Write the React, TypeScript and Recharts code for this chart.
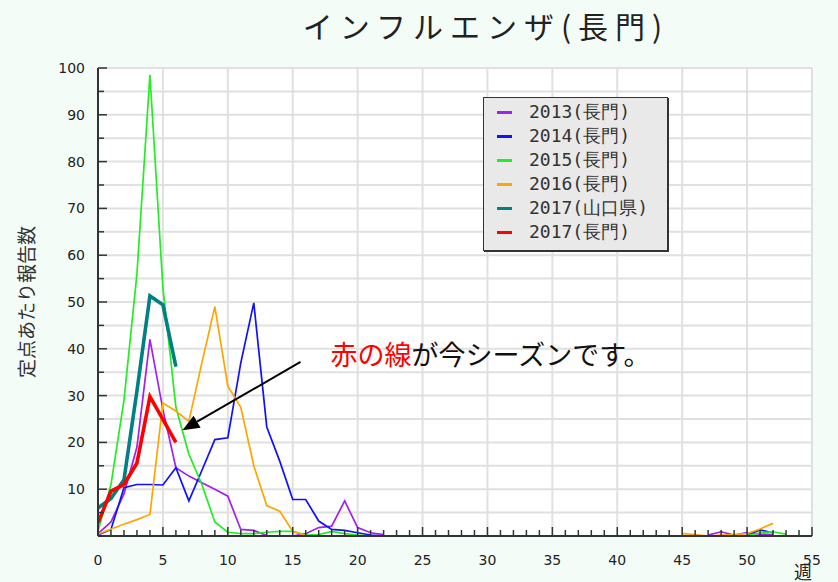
import React from 'react';
import { LineChart, Line, XAxis, YAxis, CartesianGrid, Legend, ReferenceLine } from 'recharts';

const weeks = [0,1,2,3,4,5,6,7,8,9,10,11,12,13,14,15,16,17,18,19,20,21,22,23,24,25,26,27,28,29,30,31,32,33,34,35,36,37,38,39,40,41,42,43,44,45,46,47,48,49,50,51,52,53];

const N = null;
// 2013 (長門)
const s2013 = [0.5,3,9,19,42,27,14.6,12.8,11.4,10,8.5,1.4,1.2,0.1,0,0,0.5,1.8,2.1,7.5,1.8,0.7,0.3,
  N,N,N,N,N,N,N,N,N,N,N,N,N,N,N,N,N,N,N,N,N,N,
  N,N,0.2,0.9,0.2,0.7,0.4,0.3,N];
// 2014 (長門)
const s2014 = [0.2,1.4,10.3,11,11,10.9,14.6,7.5,14,20.6,21,37,49.8,23.3,16,7.8,7.8,3.2,1.4,1.2,0.7,0.2,0,
  N,N,N,N,N,N,N,N,N,N,N,N,N,N,N,N,N,N,N,N,N,N,
  N,N,N,N,N,0.2,1.3,0.7,N];
// 2015 (長門)
const s2015 = [1,11,29,56,98.5,53,27.5,17.5,11,3,0.8,0.5,0.5,0.8,1,1,0.2,0.3,1,0.5,0.2,0,0,
  N,N,N,N,N,N,N,N,N,N,N,N,N,N,N,N,N,N,N,N,N,N,
  N,N,N,N,N,0.1,0.7,0.9,0.4];
// 2016 (長門)
const s2016 = [0.4,1.5,2.5,3.5,4.6,28.4,26.7,24.5,37,49,32,27.5,15,6.5,5.3,1,0.1,0,0,0,0,N,N,
  N,N,N,N,N,N,N,N,N,N,N,N,N,N,N,N,N,N,N,N,N,N,
  0.5,0.3,0,0.2,0.3,0.5,1.5,2.7,N];
// 2017 (山口県)
const s2017y = [6,8,12,31,51.3,49.4,36.2];
// 2017 (長門)
const s2017n = [2.8,9.6,11,15.6,29.8,24.9,20];

const seriesNames = ['2013(長門)', '2014(長門)', '2015(長門)', '2016(長門)', '2017(山口県)', '2017(長門)'];
const seriesKeys = ['s2013', 's2014', 's2015', 's2016', 's2017y', 's2017n'];
const seriesColors = ['#a020f0', '#1010ff', '#22ee22', '#ffa500', '#008080', '#ff0000'];
const seriesWidths = [1.7, 1.7, 1.7, 1.7, 3.6, 3.6];

const xTicks = [0,1,2,3,4,5,6,7,8,9,10,11,12,13,14,15,16,17,18,19,20,21,22,23,24,25,26,27,28,29,30,31,32,33,34,35,36,37,38,39,40,41,42,43,44,45,46,47,48,49,50,51,52,53,54,55];
const yTicks = [0,5,10,15,20,25,30,35,40,45,50,55,60,65,70,75,80,85,90,95,100];
const xGrid = [5,10,15,20,25,30,35,40,45,50,55];
const yGrid = [5,10,15,20,25,30,35,40,45,50,55,60,65,70,75,80,85,90,95,100];

const title = 'インフルエンザ(長門)';
const yLabel = '定点あたり報告数';
const xLabel = '週';
const noteRed = '赤の線';
const noteBlack = 'が今シーズンです。';
const arrowTail = { x: 15.6, y: 37.2 };
const arrowTip = { x: 6.5, y: 22.6 };

const data = weeks.map((w, i) => ({
  week: w,
  s2013: s2013[i] ?? null,
  s2014: s2014[i] ?? null,
  s2015: s2015[i] ?? null,
  s2016: s2016[i] ?? null,
  s2017y: i < s2017y.length ? s2017y[i] : null,
  s2017n: i < s2017n.length ? s2017n[i] : null,
}));

const tickFont = '"DejaVu Sans", sans-serif';

const XTick = (props: any) => {
  const { x, y, payload } = props;
  const v = payload.value;
  const major = v % 5 === 0;
  return (
    <g>
      <line x1={x} y1={y} x2={x} y2={y - (major ? 9 : 6)} stroke="#333" strokeWidth={1.5} />
      {major && (
        <text x={x} y={y + 29} textAnchor="middle" fontSize={14} fontFamily={tickFont} fill="#222">
          {v}
        </text>
      )}
    </g>
  );
};

const YTick = (props: any) => {
  const { x, y, payload } = props;
  const v = payload.value;
  const major = v % 10 === 0;
  return (
    <g>
      <line x1={x} y1={y} x2={x + (major ? 9 : 6)} y2={y} stroke="#333" strokeWidth={1.5} />
      {major && v > 0 && (
        <text x={x - 13} y={y + 5} textAnchor="end" fontSize={14} fontFamily={tickFont} fill="#222">
          {v}
        </text>
      )}
    </g>
  );
};

const YLabelContent = (props: any) => {
  const vb = props.viewBox || {};
  const cx = vb.x + 25;
  const cy = vb.y + vb.height / 2;
  return (
    <text x={cx} y={cy} transform={`rotate(-90 ${cx} ${cy})`} textAnchor="middle" dominantBaseline="central"
      fontSize={19} fontFamily='"Noto Sans CJK JP", sans-serif' fill="#333">
      {yLabel}
    </text>
  );
};

const XLabelContent = (props: any) => {
  const vb = props.viewBox || {};
  return (
    <text x={vb.x + vb.width - 9} y={vb.y + 43} textAnchor="middle" fontSize={18}
      fontFamily='"Noto Sans CJK JP", sans-serif' fill="#222">
      {xLabel}
    </text>
  );
};

const ArrowShape = (p: any) => {
  const { x1, y1, x2, y2 } = p;
  const dx = x2 - x1;
  const dy = y2 - y1;
  const len = Math.sqrt(dx * dx + dy * dy);
  const ux = dx / len;
  const uy = dy / len;
  const hl = 17;
  const hw = 7;
  const bx = x2 - ux * hl;
  const by = y2 - uy * hl;
  const pts = `${x2},${y2} ${bx - uy * hw},${by + ux * hw} ${bx + uy * hw},${by - ux * hw}`;
  return (
    <g>
      <line x1={x1} y1={y1} x2={bx} y2={by} stroke="#000" strokeWidth={2} />
      <polygon points={pts} fill="#000" />
      <text x={x1 + 30} y={y1 + 3} fontSize={27} fontFamily='"Noto Sans CJK JP", sans-serif'>
        <tspan fill="#ff0000">{noteRed}</tspan>
        <tspan fill="#111">{noteBlack}</tspan>
      </text>
    </g>
  );
};

const renderLegend = (props: any) => {
  const payload = props.payload || [];
  return (
    <div style={{
      width: 185, height: 154, boxSizing: 'border-box', background: '#e9e9e9',
      border: '1px solid #333', boxShadow: '1px 1px 0 #333', paddingTop: 2,
    }}>
      {payload.map((e: any, i: number) => (
        <div key={i} style={{ display: 'flex', alignItems: 'center', height: 24 }}>
          <span style={{ display: 'inline-block', width: 15, height: 3, background: e.color, marginLeft: 13 }} />
          <span style={{ marginLeft: 17, fontFamily: '"DejaVu Sans Mono", monospace', fontSize: 18, color: '#333', lineHeight: '24px', whiteSpace: 'nowrap' }}>
            {e.value}
          </span>
        </div>
      ))}
    </div>
  );
};

export default function App() {
  return (
    <div style={{ position: 'absolute', left: 0, top: 0, width: 838, height: 582, background: '#f4fcf8', overflow: 'hidden' }}>
      <svg width={838} height={60} style={{ position: 'absolute', left: 0, top: 0 }}>
        <text x={486} y={38} textAnchor="middle" fontSize={30} letterSpacing={7}
          fontFamily='"Noto Sans CJK JP", sans-serif' fill="#222">
          {title}
        </text>
      </svg>
      <div style={{ position: 'absolute', left: 0, top: 0 }}>
        <LineChart width={838} height={582} data={data} margin={{ top: 68, right: 26, bottom: 0, left: 0 }}>
          <CartesianGrid stroke="#e0e0e0" strokeWidth={2} fill="#ffffff" verticalValues={xGrid} horizontalValues={yGrid} />
          <XAxis dataKey="week" type="number" domain={[0, 55]} ticks={xTicks} interval={0} tick={<XTick />}
            tickLine={false} tickSize={0} tickMargin={0} height={46} allowDataOverflow
            axisLine={{ stroke: '#333', strokeWidth: 2 }} label={{ content: XLabelContent }} />
          <YAxis type="number" domain={[0, 100]} ticks={yTicks} interval={0} tick={<YTick />}
            tickLine={false} tickSize={0} tickMargin={0} width={98} allowDataOverflow
            axisLine={{ stroke: '#333', strokeWidth: 2 }} label={{ content: YLabelContent }} />
          <Legend layout="vertical" align="center" verticalAlign="middle" content={renderLegend}
            wrapperStyle={{ left: 483, top: 97, width: 186, height: 156 }} />
          {seriesKeys.map((k, i) => (
            <Line key={k} type="linear" dataKey={k} name={seriesNames[i]} stroke={seriesColors[i]}
              strokeWidth={seriesWidths[i]} dot={false} activeDot={false} isAnimationActive={false} connectNulls={false} />
          ))}
          <ReferenceLine segment={[arrowTail, arrowTip]} shape={ArrowShape} ifOverflow="visible" />
        </LineChart>
      </div>
    </div>
  );
}
